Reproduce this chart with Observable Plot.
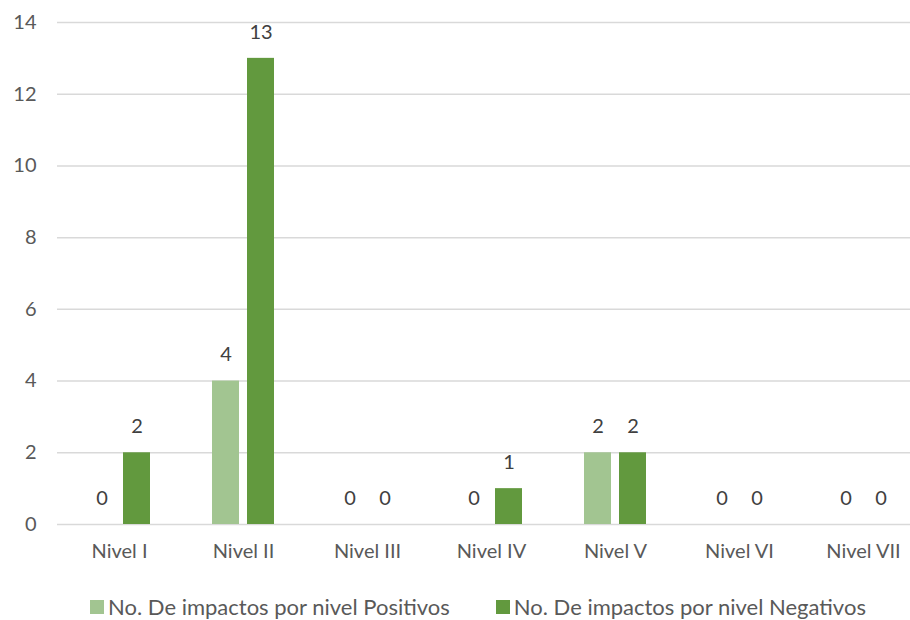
<!DOCTYPE html>
<html><head><meta charset="utf-8">
<script src="https://cdn.jsdelivr.net/npm/d3@7"></script>
<script src="https://cdn.jsdelivr.net/npm/@observablehq/plot@0.6"></script>
<style>
body{margin:0;background:#fff;font-family:Lato,sans-serif;}
#legend{display:flex;justify-content:center;align-items:center;margin-top:15px;padding-left:46px;font-size:22px;line-height:24px;color:#595959;}
.item{display:flex;align-items:center;margin:0 23px;}
.sw{width:14px;height:14px;margin-right:4px;display:inline-block;}
</style>
</head><body><div id="chart"></div><div id="legend"></div>
<script>
const categories = ["Nivel I","Nivel II","Nivel III","Nivel IV","Nivel V","Nivel VI","Nivel VII"];
const seriesKeys = ["Positivos","Negativos"];
const seriesNames = ["No. De impactos por nivel Positivos","No. De impactos por nivel Negativos"];
const positivos = [0,4,0,0,2,0,0];
const negativos = [2,13,0,1,2,0,0];
const yTicks = [0,2,4,6,8,10,12,14];
const colors = ["#a2c591","#62993e"];

const data = categories.flatMap((c,i)=>[
  {cat:c, s:seriesKeys[0], v:positivos[i]},
  {cat:c, s:seriesKeys[1], v:negativos[i]}
]);

const chart = Plot.plot({
  width:910, height:580,
  marginLeft:57, marginRight:0, marginTop:22, marginBottom:56,
  style:{fontFamily:"Lato, sans-serif", fontSize:"20px", color:"#595959", background:"#fff", overflow:"hidden"},
  fx:{domain:categories, range:[57,925], padding:0, label:null, axis:"bottom", tickSize:0, tickPadding:19},
  x:{domain:seriesKeys, paddingInner:0.224, paddingOuter:0.844, axis:null},
  y:{domain:[0,14], ticks:yTicks, tickSize:0, tickPadding:21, label:null, tickFormat:d=>String(d)},
  color:{domain:seriesKeys, range:colors},
  marks:[
    Plot.ruleY(yTicks,{stroke:"#d9d9d9", strokeWidth:1.5}),
    Plot.barY(data,{fx:"cat", x:"s", y:"v", fill:"s"}),
    Plot.text(data,{fx:"cat", x:"s", y:"v", text:d=>String(d.v), dy:-26, fill:"#404040", fontSize:20})
  ]
});
document.getElementById("chart").appendChild(chart);

const lg = document.getElementById("legend");
seriesNames.forEach((n,i)=>{
  const it = document.createElement("div"); it.className="item";
  const sw = document.createElement("span"); sw.className="sw"; sw.style.background=colors[i];
  const t = document.createElement("span"); t.textContent=n;
  it.appendChild(sw); it.appendChild(t); lg.appendChild(it);
});
</script>
</body></html>
